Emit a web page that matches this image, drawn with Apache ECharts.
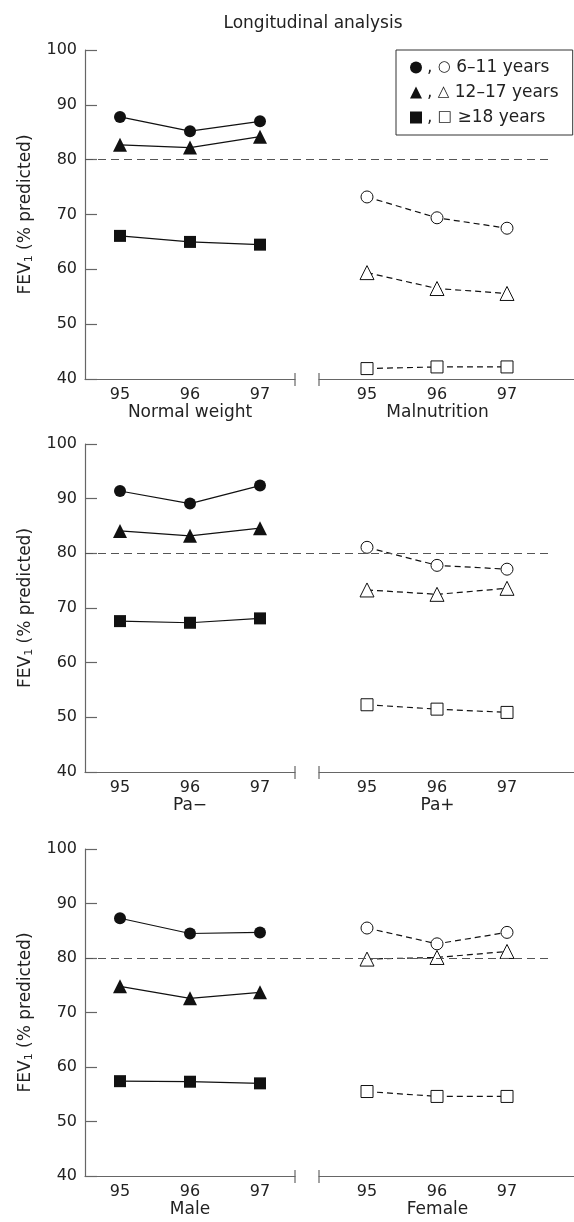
<!DOCTYPE html>
<html>
<head>
<meta charset="utf-8">
<title>Longitudinal analysis</title>
<script src="https://cdn.jsdelivr.net/npm/echarts@6/dist/echarts.min.js"></script>
<style>
  html, body { margin: 0; padding: 0; background: #fff; }
  #main { width: 574px; height: 1222px; }
</style>
</head>
<body>
<div id="main"></div>
<script>
// data
var years = [95, 96, 97];
var ageGroups = ['6–11 years', '12–17 years', '≥18 years'];
var filledSymbols = ['circle', 'triangle', 'rect'];
var openChars = ['○', '△', '□'];
var groupNames = [['Normal weight', 'Malnutrition'], ['Pa−', 'Pa+'], ['Male', 'Female']];
var refValue = 80;

var normalWeight = [[87.8, 85.2, 87.0], [82.7, 82.2, 84.2], [66.1, 65.0, 64.5]];
var malnutrition = [[73.2, 69.4, 67.5], [59.4, 56.5, 55.6], [41.9, 42.2, 42.2]];
var paNeg = [[91.4, 89.1, 92.4], [84.1, 83.2, 84.6], [67.6, 67.3, 68.1]];
var paPos = [[81.1, 77.8, 77.1], [73.3, 72.5, 73.6], [52.3, 51.5, 50.9]];
var male = [[87.3, 84.5, 84.7], [74.8, 72.6, 73.7], [57.4, 57.3, 57.0]];
var female = [[85.5, 82.6, 84.7], [79.8, 80.1, 81.2], [55.5, 54.6, 54.6]];

var panels = [[normalWeight, malnutrition], [paNeg, paPos], [male, female]];

// layout
var panelTop = [50, 444, 849];
var panelH = [329, 328, 327];
var axisLeft = 85;
var leftW = 210;
var rightLeft = 319;
var refRight = 21;
var font = 'DejaVu Sans';
var txt = '#222';
var axisCol = '#666';

var chart = echarts.init(document.getElementById('main'));

var grids = [], xAxes = [], yAxes = [], series = [], graphics = [];

panels.forEach(function (panel, p) {
  var top = panelTop[p], h = panelH[p];
  var g0 = grids.length;
  // left group, right group, full width (for the 80 line)
  grids.push({ left: axisLeft, top: top, width: leftW, height: h });
  grids.push({ left: rightLeft, top: top, right: 0, height: h });
  grids.push({ left: axisLeft, top: top, right: refRight, height: h });

  var nameStyle = { fontFamily: font, fontSize: 17, color: txt };
  xAxes.push({
    gridIndex: g0, type: 'value', min: 94.5, max: 97.5,
    axisLine: { lineStyle: { color: axisCol, width: 1.2 } },
    axisTick: { show: false }, splitLine: { show: false },
    axisLabel: { customValues: years, fontFamily: font, fontSize: 16, color: txt, margin: 8 },
    name: groupNames[p][0], nameLocation: 'middle', nameGap: 25, nameTextStyle: nameStyle
  });
  xAxes.push({
    gridIndex: g0 + 1, type: 'value', min: 95 - 48 / 70, max: 95 + 207 / 70,
    axisLine: { lineStyle: { color: axisCol, width: 1.2 } },
    axisTick: { show: false }, splitLine: { show: false },
    axisLabel: { customValues: years, fontFamily: font, fontSize: 16, color: txt, margin: 8 },
    name: groupNames[p][1], nameLocation: 'middle', nameGap: 25,
    nameTextStyle: Object.assign({ padding: [0, 18, 0, 0] }, nameStyle)
  });
  xAxes.push({ gridIndex: g0 + 2, type: 'value', min: 0, max: 1, show: false });

  yAxes.push({
    gridIndex: g0, type: 'value', min: 40, max: 100, interval: 10,
    axisLine: { show: true, lineStyle: { color: axisCol, width: 1.2 } },
    axisTick: { show: true, inside: true, length: 12, lineStyle: { color: axisCol, width: 1.2 } },
    splitLine: { show: false },
    axisLabel: { fontFamily: font, fontSize: 16, color: txt, margin: 8 },
    name: 'FEV{s|1} (% predicted)', nameLocation: 'middle', nameGap: 50, nameRotate: 90,
    nameTextStyle: {
      fontFamily: font, fontSize: 17, color: txt,
      rich: { s: { fontFamily: font, fontSize: 11, color: txt, padding: [8, 0, 0, 0] } }
    }
  });
  yAxes.push({ gridIndex: g0 + 1, type: 'value', min: 40, max: 100, show: false });
  yAxes.push({ gridIndex: g0 + 2, type: 'value', min: 40, max: 100, show: false });

  // dashed 80% reference line
  series.push({
    type: 'line', xAxisIndex: g0 + 2, yAxisIndex: g0 + 2, data: [], silent: true, z: 1,
    markLine: {
      silent: true, symbol: 'none', label: { show: false },
      lineStyle: { color: '#555', width: 1.1, type: [8, 5] },
      data: [{ yAxis: refValue }]
    }
  });

  ageGroups.forEach(function (name, k) {
    var size = k === 1 ? 14 : 12;
    series.push({
      name: name, type: 'line', xAxisIndex: g0, yAxisIndex: g0, z: 3,
      data: years.map(function (y, i) { return [y, panel[0][k][i]]; }),
      symbol: filledSymbols[k], symbolSize: size,
      itemStyle: { color: '#111' },
      lineStyle: { color: '#111', width: 1.2 }
    });
    series.push({
      name: name + ' (open)', type: 'line', xAxisIndex: g0 + 1, yAxisIndex: g0 + 1, z: 3,
      data: years.map(function (y, i) { return [y, panel[1][k][i]]; }),
      symbol: filledSymbols[k], symbolSize: size,
      itemStyle: { color: '#fff', borderColor: '#111', borderWidth: 1 },
      lineStyle: { color: '#111', width: 1.2, type: [6, 4] }
    });
  });

  // break marks on the x axis
  var yAx = top + h;
  [axisLeft + leftW, rightLeft].forEach(function (bx) {
    graphics.push({
      type: 'line', silent: true,
      shape: { x1: bx, y1: yAx - 6, x2: bx, y2: yAx + 7 },
      style: { stroke: axisCol, lineWidth: 1.2 }
    });
  });
});

chart.setOption({
  backgroundColor: '#fff',
  animation: false,
  title: {
    text: 'Longitudinal analysis', left: 308, top: 10, textAlign: 'center',
    textStyle: { fontFamily: font, fontSize: 17, fontWeight: 'normal', color: txt }
  },
  legend: {
    orient: 'vertical', left: 396, top: 50,
    padding: [9, 14, 9, 14], itemGap: 8,
    itemWidth: 12, itemHeight: 12,
    borderColor: '#333', borderWidth: 1,
    data: ageGroups.map(function (n, k) { return { name: n, icon: filledSymbols[k] }; }),
    formatter: function (n) { return ', {o|' + openChars[ageGroups.indexOf(n)] + '} ' + n; },
    textStyle: {
      fontFamily: font, fontSize: 17, color: txt,
      rich: { o: { fontFamily: font, fontSize: 15, color: txt } }
    },
    selectedMode: false
  },
  grid: grids,
  xAxis: xAxes,
  yAxis: yAxes,
  series: series,
  graphic: graphics
});
</script>
</body>
</html>
